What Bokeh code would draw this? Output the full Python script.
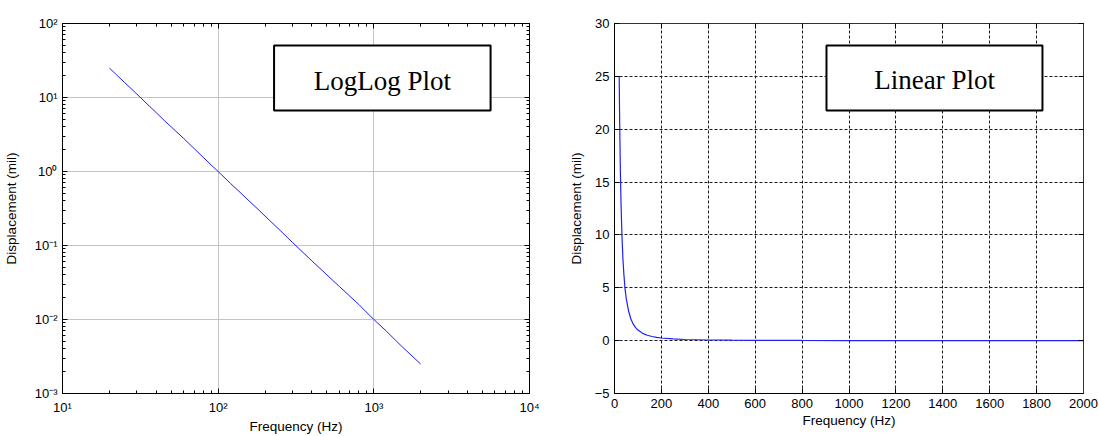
from bokeh.plotting import figure
from bokeh.layouts import row
from bokeh.models import (Range1d, FixedTicker, LogAxis, LinearAxis,
                          CustomJSTickFormatter, BoxAnnotation, Label,
                          ColumnDataSource)
from bokeh.embed import file_html
from bokeh.resources import INLINE

# ---- data ----
freq_hz = [20, 22, 25, 28, 32, 36, 40, 45, 50, 60, 70, 80, 90, 100, 120, 140,
           160, 180, 200, 250, 300, 400, 500, 600, 800, 1000, 1200, 1500, 2000]
disp_mil = [25.0, 20.7, 16.0, 12.8, 9.8, 7.7, 6.25, 4.9, 4.0, 2.8, 2.05, 1.56,
            1.23, 1.0, 0.69, 0.51, 0.39, 0.31, 0.25, 0.16, 0.11, 0.062, 0.04,
            0.028, 0.016, 0.01, 0.007, 0.0044, 0.0025]

log_x_decades = [10, 100, 1000, 10000]
log_y_decades = [0.001, 0.01, 0.1, 1, 10, 100]
lin_x_ticks = [0, 200, 400, 600, 800, 1000, 1200, 1400, 1600, 1800, 2000]
lin_y_ticks = [-5, 0, 5, 10, 15, 20, 25, 30]

x_label = "Frequency (Hz)"
y_label = "Displacement (mil)"
box_titles = ["LogLog Plot", "Linear Plot"]

FONT = "Liberation Sans"
SERIF = "Liberation Serif"
LINE = "#1f1fff"

src = ColumnDataSource(data=dict(f=freq_hz, d=disp_mil))


def minor_for(decades):
    out = []
    for d in decades[:-1]:
        for m in range(2, 10):
            out.append(d * m)
    return out


SUP_JS = """
const sup = {'-':'\\u207B','0':'\\u2070','1':'\\u00B9','2':'\\u00B2','3':'\\u00B3',
             '4':'\\u2074','5':'\\u2075','6':'\\u2076','7':'\\u2077','8':'\\u2078','9':'\\u2079'};
const e = Math.round(Math.log10(tick));
return '10' + String(e).split('').map(c => sup[c]).join('');
"""
EMPTY_JS = "return '';"


def style_axis(ax, minor=True):
    ax.axis_line_color = "black"
    ax.axis_line_width = 1
    ax.major_tick_in = 5
    ax.major_tick_out = 0
    ax.minor_tick_in = 3 if minor else 0
    ax.minor_tick_out = 0
    ax.major_tick_line_color = "black"
    ax.minor_tick_line_color = "black" if minor else None
    ax.major_label_text_font = FONT
    ax.major_label_text_font_size = "13px"
    ax.major_label_text_color = "black"
    ax.major_label_standoff = 5
    ax.axis_label_text_font = FONT
    ax.axis_label_text_font_size = "13.5px"
    ax.axis_label_text_font_style = "normal"
    ax.axis_label_text_color = "black"
    ax.axis_label_standoff = 0


def blank_axis(ax):
    ax.major_label_standoff = 0
    ax.axis_label_standoff = 0
    ax.major_label_text_font_size = "1px"


# ---------------- Left: log-log ----------------
p1 = figure(width=555, height=436, x_axis_type="log", y_axis_type="log",
            x_range=Range1d(10, 10000), y_range=Range1d(1e-3, 1e2),
            output_backend="svg", toolbar_location=None,
            min_border_left=61, min_border_right=26,
            min_border_top=23, min_border_bottom=43)
p1.background_fill_color = "white"
p1.border_fill_color = "white"
p1.outline_line_color = "black"

xt1 = FixedTicker(ticks=log_x_decades, minor_ticks=minor_for(log_x_decades))
yt1 = FixedTicker(ticks=log_y_decades, minor_ticks=minor_for(log_y_decades))

p1.xaxis.ticker = xt1
p1.yaxis.ticker = yt1
p1.xaxis.formatter = CustomJSTickFormatter(code=SUP_JS)
p1.yaxis.formatter = CustomJSTickFormatter(code=SUP_JS)
p1.xaxis.axis_label = x_label
p1.yaxis.axis_label = y_label
for ax in p1.xaxis + p1.yaxis:
    style_axis(ax)
p1.xaxis.major_label_standoff = 6
p1.xaxis.axis_label_standoff = 1
p1.yaxis.axis_label_standoff = 13

top1 = LogAxis(ticker=xt1, formatter=CustomJSTickFormatter(code=EMPTY_JS))
right1 = LogAxis(ticker=yt1, formatter=CustomJSTickFormatter(code=EMPTY_JS))
for ax in (top1, right1):
    style_axis(ax)
    blank_axis(ax)
p1.add_layout(top1, "above")
p1.add_layout(right1, "right")

p1.xgrid.ticker = xt1
p1.ygrid.ticker = yt1
p1.grid.grid_line_color = "#c4c4c4"
p1.grid.grid_line_width = 1

p1.line("f", "d", source=src, line_color=LINE, line_width=1)

p1.add_layout(BoxAnnotation(left=228.6, right=5623, top=50.4, bottom=6.67,
                            fill_color="white", fill_alpha=1.0,
                            line_color="black", line_width=2, line_alpha=1.0))
p1.add_layout(Label(x=1134, y=16.97, text=box_titles[0], text_align="center",
                    text_baseline="alphabetic", text_font=SERIF,
                    text_font_size="27px", text_color="black"))

# ---------------- Right: linear ----------------
p2 = figure(width=544, height=436,
            x_range=Range1d(0, 2000), y_range=Range1d(-5, 30),
            output_backend="svg", toolbar_location=None,
            min_border_left=59, min_border_right=16,
            min_border_top=23, min_border_bottom=43)
p2.background_fill_color = "white"
p2.border_fill_color = "white"
p2.outline_line_color = "#333333"

xt2 = FixedTicker(ticks=lin_x_ticks, minor_ticks=[])
yt2 = FixedTicker(ticks=lin_y_ticks, minor_ticks=[])
p2.xaxis.ticker = xt2
p2.yaxis.ticker = yt2
p2.xaxis.axis_label = x_label
p2.yaxis.axis_label = y_label
for ax in p2.xaxis + p2.yaxis:
    style_axis(ax, minor=False)
p2.xaxis.major_label_standoff = 5
p2.xaxis.axis_label_standoff = 2
p2.yaxis.axis_label_standoff = 8

top2 = LinearAxis(ticker=xt2, formatter=CustomJSTickFormatter(code=EMPTY_JS))
right2 = LinearAxis(ticker=yt2, formatter=CustomJSTickFormatter(code=EMPTY_JS))
for ax in (top2, right2):
    style_axis(ax, minor=False)
    blank_axis(ax)
    ax.axis_line_color = "#333333"
p2.add_layout(top2, "above")
p2.add_layout(right2, "right")

p2.xgrid.ticker = xt2
p2.ygrid.ticker = yt2
p2.grid.grid_line_color = "#1a1a1a"
p2.grid.grid_line_dash = "3 2"
p2.grid.grid_line_width = 1

p2.line("f", "d", source=src, line_color=LINE, line_width=1.2)

p2.add_layout(BoxAnnotation(left=904, right=1825, top=27.92, bottom=21.77,
                            fill_color="white", fill_alpha=1.0,
                            line_color="black", line_width=2, line_alpha=1.0))
p2.add_layout(Label(x=1365, y=24.61, text=box_titles[1], text_align="center",
                    text_baseline="alphabetic", text_font=SERIF,
                    text_font_size="27px", text_color="black"))

layout = row(p1, p2, spacing=0)
open("out.html", "w").write(file_html(layout, INLINE))
